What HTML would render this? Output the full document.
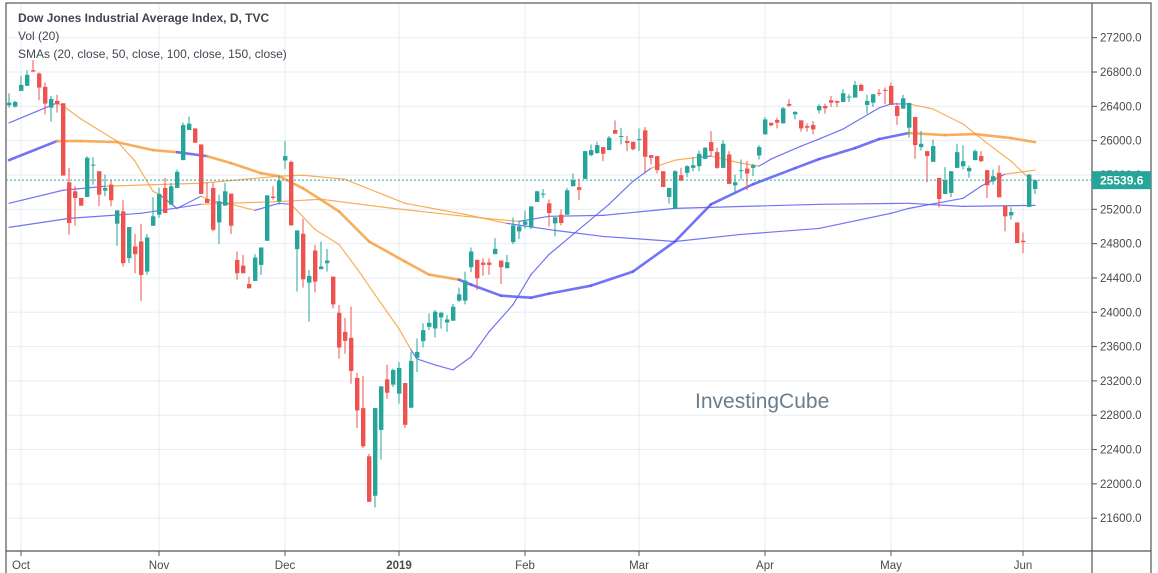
<!DOCTYPE html>
<html><head><meta charset="utf-8"><style>
html,body{margin:0;padding:0;background:#fff;}
#wrap{position:relative;width:1158px;height:573px;overflow:hidden;font-family:"Liberation Sans",sans-serif;}
svg text{font-family:"Liberation Sans",sans-serif;}
</style></head><body>
<div id="wrap">
<svg id="chart" width="1158" height="573" viewBox="0 0 1158 573">
<g id="grid"></g>
<g id="smas"></g>
<g id="candles"></g>
<text x="695" y="408" font-size="21" fill="#6b7d8c">InvestingCube</text>
<g id="axes"></g>
<text x="18" y="22" font-size="12" font-weight="bold" fill="#434651">Dow Jones Industrial Average Index, D, TVC</text>
<text x="18" y="40" font-size="12" fill="#434651">Vol (20)</text>
<text x="18" y="58" font-size="12" fill="#434651">SMAs (20, close, 50, close, 100, close, 150, close)</text>
</svg>
</div>
<script>
const opens=[26412,26397,26580,26639,26822,26783,26627,26385,26463,26436,25515,25410,25332,25344,25710,25644,25418,25488,25032,25176,24630,24767,24825,24474,25008,25137,25449,25254,25449,25773,26124,26143,25956,25320,25449,25047,25242,25383,24610,24544,24330,24365,24552,24833,25348,25293,25769,25753,24735,24915,24345,24720,24502,24572,24416,23994,23772,23702,23234,22883,22321,21861,22629,23218,23156,23051,23175,22887,23468,23663,23830,23811,23940,23881,23901,24135,24135,24525,24611,24579,24579,24677,24603,24513,24817,24942,25020,24989,25285,25371,25270,25036,25137,25137,25469,25457,25554,25831,25855,25925,25890,26124,26046,25995,25987,26011,26120,25831,25820,25644,25344,25207,25597,25625,25683,25703,25788,25983,25866,25683,25839,25480,25644,25675,25683,25827,26073,26209,26241,26202,26428,26307,26237,26170,26182,26354,26404,26471,26463,26451,26506,26502,26650,26416,26443,26557,26592,26638,26404,26373,26151,26276,25925,25878,25753,25566,25379,25391,25683,25702,25644,25773,25820,25656,25527,25625,25242,25129,25047,24833,25227,25437];
const highs=[26553,26463,26756,26822,26939,26795,26678,26521,26533,26436,25683,25469,25332,25820,25808,25644,25605,25547,25188,25305,24993,24915,25032,24911,25340,25449,25566,25508,25664,26210,26280,26143,25956,25515,25508,25371,25508,25383,24708,24669,24416,24677,24755,25363,25469,25585,25995,25769,24954,25090,24494,24786,24825,24739,24416,24084,23936,24065,23296,23257,22349,22883,23136,23390,23343,23421,23175,23538,23694,23870,23987,24026,24006,23967,24096,24287,24474,24755,24611,24630,24630,24864,24603,24669,25106,25059,25184,25234,25418,25437,25313,25106,25196,25449,25617,25558,25878,25956,25987,25925,26054,26237,26151,26054,25987,26143,26159,25831,25820,25644,25449,25656,25683,25714,25808,25886,25925,26112,25917,26007,25878,25605,25781,25761,25730,25948,26276,26209,26268,26393,26482,26346,26237,26202,26229,26424,26432,26521,26463,26600,26541,26697,26666,26533,26541,26600,26619,26678,26443,26533,26440,26276,26112,25878,26014,25566,25691,25644,25964,25948,25710,25898,25878,25656,25664,25714,25242,25223,25047,24930,25613,25539];
const lows=[26385,26385,26580,26639,26802,26471,26307,26221,26327,25593,24903,25008,25242,25344,25488,25235,25352,25235,24774,24533,24572,24455,24131,24435,25008,25098,25157,25254,25449,25773,26124,25976,25379,25273,24942,24794,25242,24911,24377,24455,24279,24365,24435,24833,25313,25254,25671,25012,24240,24287,23889,24232,24502,24474,24045,23460,23518,23168,22653,22415,21791,21725,22282,22992,23129,22934,22653,22887,23304,23589,23792,23706,23811,23772,23901,24123,24092,24466,24260,24427,24435,24677,24330,24513,24794,24852,24973,24969,25285,25332,25001,24884,25012,25137,25469,25305,25554,25819,25847,25761,25890,26081,25956,25878,25886,25878,25617,25722,25617,25461,25266,25207,25527,25574,25644,25644,25788,25820,25671,25683,25496,25379,25547,25422,25586,25781,26073,26170,26143,26202,26393,26248,26104,26104,26073,26315,26315,26393,26393,26451,26451,26502,26580,26315,26393,26521,26424,26416,26182,26373,26034,25788,25886,25515,25753,25223,25379,25340,25683,25664,25566,25773,25753,25332,25488,25340,24942,25079,24806,24689,25227,25378];
const closes=[26443,26451,26650,26767,26806,26619,26432,26486,26424,25593,25040,25332,25242,25800,25720,25371,25449,25305,25188,24572,24993,24677,24435,24872,25118,25379,25157,25469,25636,26182,26198,25976,25379,25273,24962,25293,25410,25008,24455,24455,24279,24638,24755,25363,25332,25535,25820,25012,24954,24384,24423,24357,24533,24603,24092,23589,23667,23316,22856,22438,21791,22883,23136,23062,23327,23351,22688,23433,23538,23792,23877,24006,23994,23916,24065,24209,24369,24708,24396,24552,24552,24739,24525,24583,25012,25001,25059,25234,25410,25383,25157,25106,25040,25422,25539,25426,25878,25890,25948,25847,26034,26081,26054,25972,25901,26019,25812,25800,25656,25461,25449,25644,25535,25703,25714,25847,25917,25878,25683,25964,25496,25515,25656,25617,25714,25925,26248,26178,26209,26377,26408,26334,26143,26151,26131,26404,26377,26443,26443,26553,26514,26650,26580,26463,26541,26549,26584,26416,26287,26494,26440,25948,25964,25820,25937,25320,25539,25644,25866,25761,25683,25878,25761,25480,25586,25340,25118,25168,24806,24817,25605,25539.6];
const sma20Idx=[0,8,9,12,18,21,24,25,28,32,34,37,41,45,47,51,55,58,61,65,67,68,71,74,77,80,84,87,90,94,100,104,107,111,115,117,122,125,127,132,135,139,145,147,150,154,159,163,167,170,171];
const sma20Val=[26206,26440,26405,26252,25995,25761,25410,25375,25211,25352,25293,25258,25188,25270,25258,24965,24790,24509,24205,23807,23562,23456,23386,23328,23480,23772,24088,24439,24673,24907,25258,25527,25679,25773,25808,25820,25738,25703,25785,25936,26018,26135,26381,26428,26428,26369,26194,25972,25761,25562,25527];
const sma50Idx=[0,8,12,18,24,28,33,37,42,45,49,55,60,66,70,75,77,82,87,90,97,104,111,117,124,131,135,141,145,150,156,161,167,171];
const sma50Val=[25773,25995,25995,25983,25890,25866,25820,25738,25621,25586,25445,25176,24825,24591,24439,24380,24322,24193,24170,24217,24310,24474,24825,25258,25492,25679,25785,25913,26018,26089,26065,26077,26030,25983];
const sma100Idx=[0,9,16,32,45,49,56,66,76,83,91,99,111,122,135,147,150,159,162,166,171];
const sma100Val=[25270,25422,25469,25504,25586,25597,25550,25270,25141,25036,24954,24884,24825,24907,24977,25153,25211,25328,25469,25609,25656];
const sma150Idx=[0,10,22,32,46,52,64,76,85,90,99,111,135,150,159,171];
const sma150Val=[24989,25094,25153,25258,25293,25317,25211,25118,25059,25118,25129,25211,25258,25270,25234,25246];
const priceTicks=[27200,26800,26400,26000,25600,25200,24800,24400,24000,23600,23200,22800,22400,22000,21600];
const monthLabels=["Oct","Nov","Dec","2019","Feb","Mar","Apr","May","Jun"];
const monthIdx=[2,25,46,65,86,105,126,147,169];
const lastPrice=25539.6;

const NS="http://www.w3.org/2000/svg";
const plotL=6,plotR=1092,plotT=3,plotB=551;
function xOf(i){return 9+6.0*i;}
function yOf(p){return 37.7+(27200-p)*0.0858;}
function mk(tag,attrs,parent){const e=document.createElementNS(NS,tag);for(const k in attrs)e.setAttribute(k,attrs[k]);parent.appendChild(e);return e;}

const grid=document.getElementById('grid');
const axes=document.getElementById('axes');
priceTicks.forEach(p=>{
  const y=yOf(p);
  const gl=mk('line',{x1:plotL,x2:plotR,y1:y,y2:y,stroke:'#e6edf3','stroke-width':1},grid);
  
  
  mk('line',{x1:plotR,x2:plotR+5,y1:y,y2:y,stroke:'#555','stroke-width':1},axes);
  const t=mk('text',{x:1100,y:y+4,'font-size':11.5,fill:'#4a4a4a'},axes);
  t.textContent=p.toFixed(1);
  
  
});
monthIdx.forEach((mi,k)=>{
  const x=xOf(mi);
  const gl=mk('line',{x1:x,x2:x,y1:plotT,y2:plotB,stroke:'#e6edf3','stroke-width':1},grid);
  
  
  mk('line',{x1:x,x2:x,y1:plotB,y2:plotB+5,stroke:'#555','stroke-width':1},axes);
  const t=mk('text',{x:x,y:569,'font-size':11.5,fill:'#4a4a4a','text-anchor':'middle','font-weight':monthLabels[k]==='2019'?'bold':'normal'},axes);
  t.textContent=monthLabels[k];
  
  
});
// borders
mk('rect',{x:plotL,y:plotT,width:1151-plotL,height:580,fill:'none',stroke:'#555','stroke-width':1.2},axes);
mk('line',{x1:plotR,x2:plotR,y1:plotT,y2:573,stroke:'#555','stroke-width':1.2},axes);
mk('line',{x1:plotL,x2:1151,y1:plotB,y2:plotB,stroke:'#555','stroke-width':1.2},axes);

// SMAs colored by close vs sma
const smaG=document.getElementById('smas');
function drawSma(idx,val,w,name){
  for(let k=0;k<idx.length-1;k++){
    const mid=Math.round((idx[k]+idx[k+1])/2);
    const sm=(val[k]+val[k+1])/2;
    const col=closes[mid]>=sm?'#5b5bf5':'#f7a040';
    const l=mk('line',{x1:xOf(idx[k]),y1:yOf(val[k]),x2:xOf(idx[k+1]),y2:yOf(val[k+1]),stroke:col,'stroke-width':w,'stroke-linecap':'round','stroke-opacity':0.85},smaG);
    
    
  }
}
drawSma(sma150Idx,sma150Val,1.2,'sma-150-line');
drawSma(sma100Idx,sma100Val,1.2,'sma-100-line');
drawSma(sma20Idx,sma20Val,1.2,'sma-20-line');
drawSma(sma50Idx,sma50Val,2.6,'sma-50-line');

// candles
const cg=document.getElementById('candles');
for(let i=0;i<closes.length;i++){
  const up=closes[i]>=opens[i];
  const col=up?'#26a69a':'#ef5350';
  const x=xOf(i);
  const w=mk('line',{x1:x,x2:x,y1:yOf(highs[i]),y2:yOf(lows[i]),stroke:col,'stroke-width':1},cg);
  
  
  const top=yOf(Math.max(opens[i],closes[i])),bot=yOf(Math.min(opens[i],closes[i]));
  const b=mk('rect',{x:x-2,y:top,width:4.4,height:Math.max(1,bot-top),fill:col},cg);
  
  
}
// last price line + label
const ly=yOf(lastPrice);
const pl=mk('line',{x1:plotL,x2:plotR,y1:ly,y2:ly,stroke:'#26a69a','stroke-width':1,'stroke-dasharray':'2,2'},axes);


const lb=mk('rect',{x:plotR,y:ly-9,width:59,height:18,fill:'#26a69a'},axes);


const lt=mk('text',{x:1100,y:ly+4.5,'font-size':12,fill:'#fff','font-weight':'bold'},axes);
lt.textContent=lastPrice.toFixed(1);


</script>
</body></html>
